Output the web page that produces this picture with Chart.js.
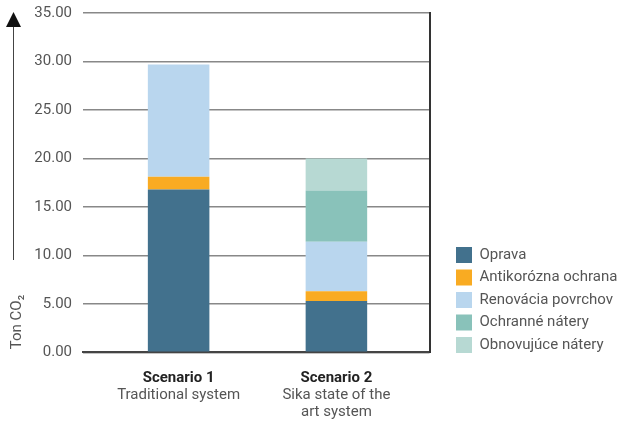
<!DOCTYPE html>
<html>
<head>
<meta charset="utf-8">
<script src="https://cdn.jsdelivr.net/npm/chart.js@4.4.0/dist/chart.umd.min.js"></script>
<style>
html, body { margin: 0; padding: 0; background: #fff; }
#wrap { width: 624px; height: 421px; }
</style>
</head>
<body>
<div id="wrap"><canvas id="co2Chart"></canvas></div>
<script>
// values (Ton CO2)
const scenarios = ['Scenario 1', 'Scenario 2'];
const scenarioNotes = [['Traditional system'], ['Sika state of the', 'art system']];
const oprava = [16.8, 5.3];
const antikorozna = [1.3, 1.0];
const renovacia = [11.6, 5.1];
const ochranne = [null, 5.3];
const obnovujuce = [null, 3.3];
const yTicks = [0, 5, 10, 15, 20, 25, 30, 35];

const textGray = '#555555';
const font = 'Roboto';

const toPoints = arr => arr.map((v, i) => ({ x: i + 1, y: v }));

// arrow, axis title and the two-line category labels
const extras = {
    id: 'extras',
    afterDraw(chart) {
        const ctx = chart.ctx;
        const xs = chart.scales.x;
        const ys = chart.scales.y;
        const tipY = ys.getPixelForValue(35) - 1;
        ctx.save();
        ctx.strokeStyle = '#444';
        ctx.lineWidth = 1;
        ctx.beginPath();
        ctx.moveTo(13.5, 260);
        ctx.lineTo(13.5, tipY + 14);
        ctx.stroke();
        ctx.fillStyle = '#111';
        ctx.beginPath();
        ctx.moveTo(13.5, tipY);
        ctx.lineTo(6, tipY + 15);
        ctx.lineTo(21, tipY + 15);
        ctx.closePath();
        ctx.fill();

        ctx.save();
        ctx.translate(17, 322);
        ctx.rotate(-Math.PI / 2);
        ctx.fillStyle = textGray;
        ctx.font = '15px ' + font;
        ctx.textAlign = 'center';
        ctx.textBaseline = 'middle';
        ctx.fillText('Ton CO\u2082', 0, 0);
        ctx.restore();

        ctx.textAlign = 'center';
        ctx.textBaseline = 'middle';
        scenarios.forEach((name, i) => {
            const px = xs.getPixelForValue(i + 1);
            ctx.fillStyle = '#222';
            ctx.font = 'bold 15px ' + font;
            ctx.fillText(name, px, 378);
            ctx.fillStyle = textGray;
            ctx.font = '15px ' + font;
            scenarioNotes[i].forEach((line, j) => {
                ctx.fillText(line, px, 395 + j * 17.5);
            });
        });
        ctx.restore();
    }
};

const co2Chart = document.getElementById('co2Chart');

const configBar = {
    type: 'bar',
    data: {
        datasets: [{
                label: 'Oprava',
                data: toPoints(oprava),
                backgroundColor: '#42718D',
            },
            {
                label: 'Antikorózna ochrana',
                data: toPoints(antikorozna),
                backgroundColor: '#F9AB22',
            },
            {
                label: 'Renovácia povrchov',
                data: toPoints(renovacia),
                backgroundColor: '#B9D6EE',
            },
            {
                label: 'Ochranné nátery',
                data: toPoints(ochranne),
                backgroundColor: '#89C2BA',
            },
            {
                label: 'Obnovujúce nátery',
                data: toPoints(obnovujuce),
                backgroundColor: '#B7D9D3',
            }
        ]
    },
    options: {
        responsive: true,
        maintainAspectRatio: false,
        animation: false,
        categoryPercentage: 1,
        barPercentage: 0.39,
        layout: {
            padding: { top: 13, bottom: 61.5, left: 0, right: 0 }
        },
        scales: {
            x: {
                type: 'linear',
                offset: false,
                stacked: true,
                min: 0.394,
                max: 2.59,
                grid: { display: false },
                ticks: { display: false },
                border: { display: true, color: '#444', width: 2 },
                afterBuildTicks: s => { s.ticks = scenarios.map((_, i) => ({ value: i + 1 })); },
                afterFit: s => { s.height = 7.2; }
            },
            y: {
                stacked: true,
                min: 0,
                max: 35,
                afterBuildTicks: s => { s.ticks = yTicks.map(v => ({ value: v })); },
                ticks: {
                    padding: 11,
                    color: textGray,
                    font: { family: font, size: 15 },
                    callback: v => v.toFixed(2)
                },
                grid: { color: '#888', lineWidth: 1.5, drawTicks: false },
                border: { display: false },
                afterFit: s => {
                    s.width = 83;
                    s.paddingTop = 0;
                    s.paddingBottom = 0;
                }
            },
            yRight: {
                position: 'right',
                min: 0,
                max: 35,
                ticks: { display: false },
                grid: { drawOnChartArea: false, drawTicks: false },
                border: { display: true, color: '#333', width: 2 },
                afterFit: s => { s.width = 20; }
            }
        },
        plugins: {
            legend: {
                position: 'right',
                align: 'end',
                maxWidth: 174.5,
                labels: {
                    boxWidth: 16,
                    boxHeight: 16,
                    padding: 6.5,
                    color: textGray,
                    font: { family: font, size: 15 }
                }
            },
            tooltip: { enabled: false }
        }
    },
    plugins: [extras]
};

new Chart(co2Chart, configBar);
</script>
</body>
</html>
